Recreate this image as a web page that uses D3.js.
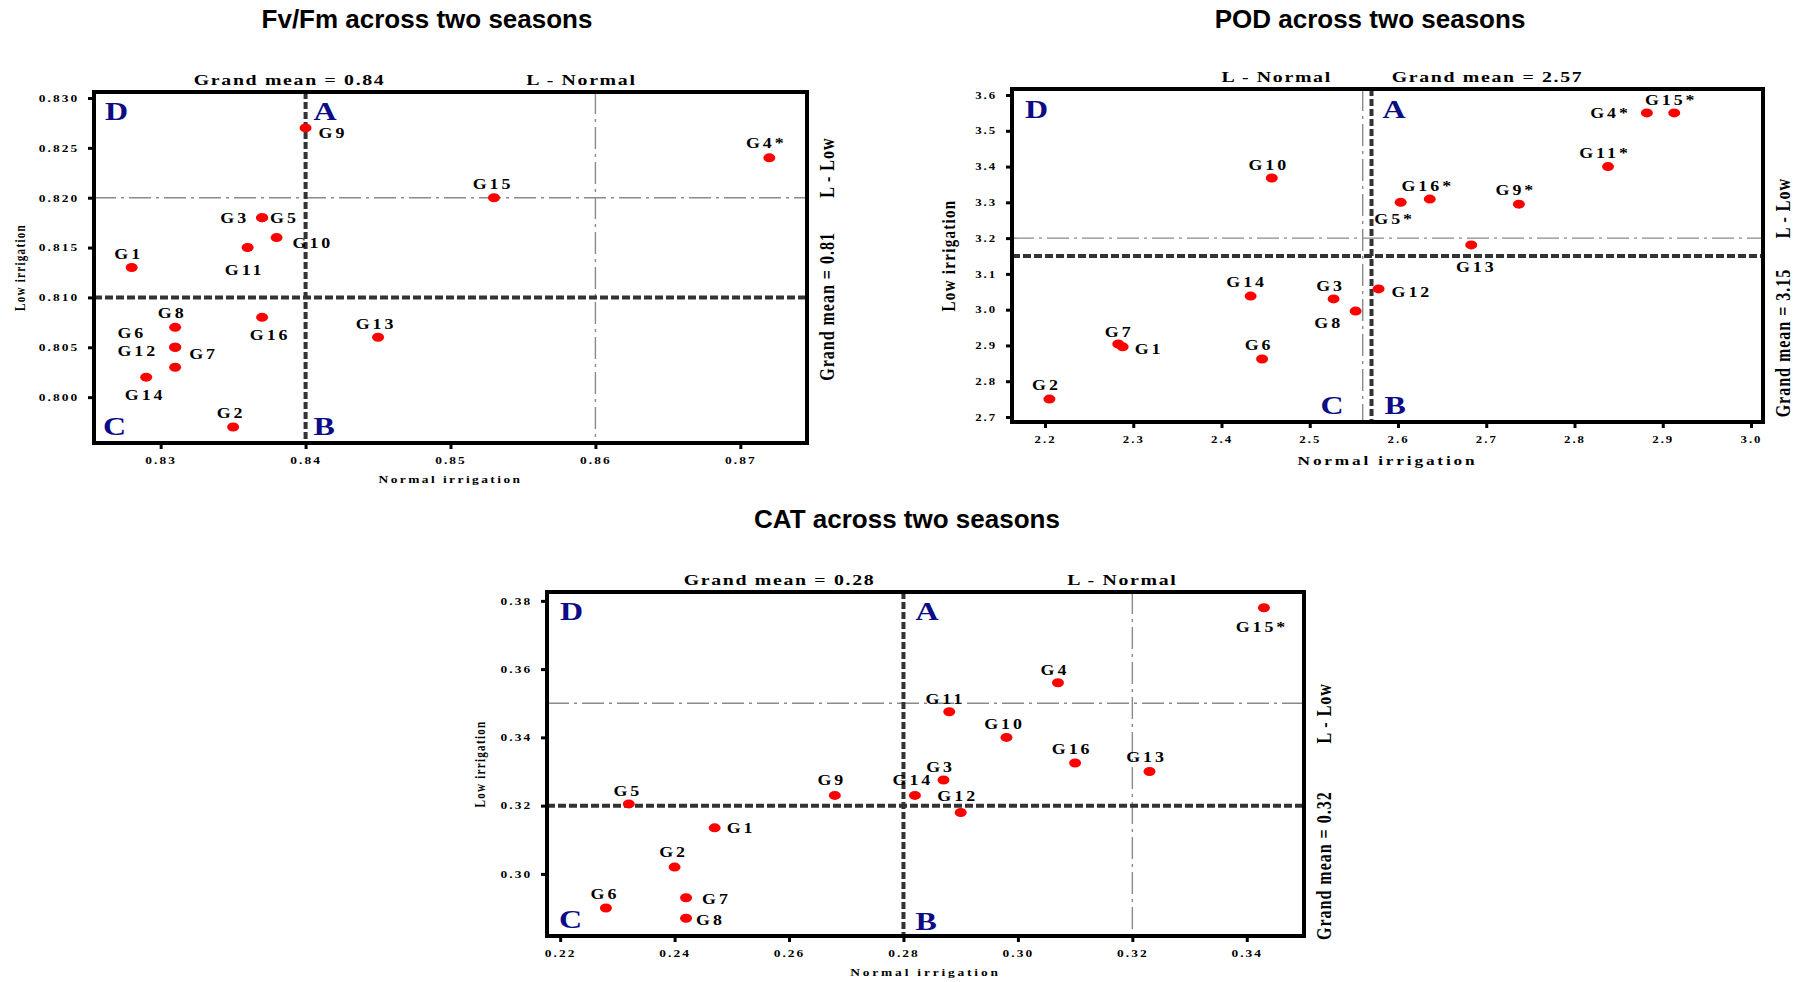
<!DOCTYPE html>
<html>
<head>
<meta charset="utf-8">
<script src="https://cdn.jsdelivr.net/npm/d3@7"></script>
<style>
  body { margin: 0; background: #fff; }
  svg { display: block; }
  text { font-family: "Liberation Serif", "Times New Roman", serif; font-weight: bold; fill: #000; }
  text.title { font-family: "Liberation Sans", Arial, sans-serif; }
</style>
</head>
<body>
<script>
//------------------------------------------- Data ---------------------------------------------//
var genotypes = ["G1", "G2", "G3", "G4", "G5", "G6", "G7", "G8",
                 "G9", "G10", "G11", "G12", "G13", "G14", "G15", "G16"];

// Fv/Fm
var fvfmNormal = [0.828, 0.835, 0.837, 0.872, 0.837, 0.831, 0.831, 0.831,
                  0.840, 0.838, 0.836, 0.831, 0.845, 0.829, 0.853, 0.837];
var fvfmLow = [0.813, 0.797, 0.818, 0.824, 0.818, 0.805, 0.803, 0.807,
               0.827, 0.816, 0.815, 0.805, 0.806, 0.802, 0.820, 0.808];
var fvfmMarked = ["G4"];
var fvfmMeans = [0.84, 0.81];      // grand mean normal, low
var fvfmLimits = [0.86, 0.82];     // L - Normal, L - Low
var fvfmXTicks = [0.83, 0.84, 0.85, 0.86, 0.87];
var fvfmYTicks = [0.800, 0.805, 0.810, 0.815, 0.820, 0.825, 0.830];

// POD
var podNormal = [2.288, 2.205, 2.527, 2.882, 2.603, 2.446, 2.283, 2.552,
                 2.737, 2.457, 2.838, 2.578, 2.683, 2.433, 2.913, 2.636];
var podLow = [2.896, 2.750, 3.030, 3.550, 3.300, 2.862, 2.904, 2.996,
              3.295, 3.368, 3.400, 3.058, 3.181, 3.038, 3.550, 3.309];
var podMarked = ["G4", "G5", "G9", "G11", "G15", "G16"];
var podMeans = [2.57, 3.15];
var podLimits = [2.56, 3.2];
var podXTicks = [2.2, 2.3, 2.4, 2.5, 2.6, 2.7, 2.8, 2.9, 3.0];
var podYTicks = [2.7, 2.8, 2.9, 3.0, 3.1, 3.2, 3.3, 3.4, 3.5, 3.6];

// CAT
var catNormal = [0.247, 0.240, 0.287, 0.307, 0.232, 0.228, 0.242, 0.242,
                 0.268, 0.298, 0.288, 0.290, 0.323, 0.282, 0.343, 0.310];
var catLow = [0.3135, 0.302, 0.3275, 0.356, 0.3205, 0.290, 0.293, 0.287,
              0.323, 0.340, 0.3475, 0.318, 0.330, 0.323, 0.378, 0.3325];
var catMarked = ["G15"];
var catMeans = [0.28, 0.32];
var catLimits = [0.32, 0.35];
var catXTicks = [0.22, 0.24, 0.26, 0.28, 0.30, 0.32, 0.34];
var catYTicks = [0.30, 0.32, 0.34, 0.36, 0.38];

//------------------------------------------- Layout ---------------------------------------------//
// label placement: [anchor, dx, dy] from the point
var fvfmLabelPos = {
  G1: ["middle", -3, -9], G2: ["middle", -2, -9], G3: ["end", -13, 5], G4: ["middle", -3, -10],
  G5: ["start", 8, 5], G6: ["end", -29, -9], G7: ["start", 14, -8], G8: ["middle", -3, -9],
  G9: ["start", 13, 10], G10: ["start", 16, 10], G11: ["middle", -3, 27], G12: ["end", -17, 9],
  G13: ["middle", -2, -8], G14: ["middle", -1, 23], G15: ["middle", -1, -9], G16: ["middle", 8, 23]
};
var podLabelPos = {
  G1: ["start", 12, 7], G2: ["middle", -3, -9], G3: ["middle", -3, -8], G4: ["end", -16, 5],
  G5: ["middle", -6, 22], G6: ["middle", -3, -9], G7: ["middle", 1, -7], G8: ["middle", -27, 17],
  G9: ["middle", -3, -9], G10: ["middle", -3, -8], G11: ["middle", -3, -9], G12: ["start", 13, 8],
  G13: ["middle", 5, 27], G14: ["middle", -4, -9], G15: ["middle", -3, -8], G16: ["middle", -2, -8]
};
var catLabelPos = {
  G1: ["start", 12, 5], G2: ["middle", -1, -10], G3: ["middle", -3, -8], G4: ["middle", -3, -8],
  G5: ["middle", -1, -8], G6: ["middle", -1, -9], G7: ["start", 16, 6], G8: ["start", 10, 7],
  G9: ["middle", -3, -10], G10: ["middle", -2, -8], G11: ["middle", -4, -8], G12: ["middle", -3, -11],
  G13: ["middle", -3, -10], G14: ["middle", -2, -10], G15: ["middle", -2, 24], G16: ["middle", -3, -9]
};

var charts = [
  {
    title: "Fv/Fm across two seasons", titleX: 427, titleY: 28,
    normal: fvfmNormal, low: fvfmLow, marked: fvfmMarked, means: fvfmMeans, limits: fvfmLimits,
    xTicks: fvfmXTicks, yTicks: fvfmYTicks, xFmt: ".2f", yFmt: ".3f",
    left: 94, right: 807, top: 92, bottom: 443,
    xDomain: [0.8254, 0.8746], yDomain: [0.7954, 0.8306],
    labelPos: fvfmLabelPos,
    gmTopDx: -16, lnTopDx: -14, llRightDy: -30, gmRightDy: 9,
    yTitleDx: -69, yTitleSize: 11, xTitleSize: 10.5, xTitleLs: 1.9, tickSize: 10.5,
    quad: { D: ["left", 11, "top", 28], A: ["mean", 8, "top", 28], C: ["left", 9, "bottom", -8], B: ["mean", 8, "bottom", -8] }
  },
  {
    title: "POD across two seasons", titleX: 1370, titleY: 28,
    normal: podNormal, low: podLow, marked: podMarked, means: podMeans, limits: podLimits,
    xTicks: podXTicks, yTicks: podYTicks, xFmt: ".1f", yFmt: ".1f",
    left: 1012, right: 1763, top: 89, bottom: 422,
    xDomain: [2.1626, 3.0136], yDomain: [2.686, 3.6168],
    labelPos: podLabelPos,
    gmTopDx: 116, lnTopDx: -86, llRightDy: -30, gmRightDy: 87,
    yTitleDx: -57, yTitleSize: 15, xTitleSize: 13.5, xTitleLs: 2.2, tickSize: 10,
    quad: { D: ["left", 13, "top", 29], A: ["mean", 11, "top", 29], C: ["mean", -51, "bottom", -8], B: ["mean", 13, "bottom", -8] }
  },
  {
    title: "CAT across two seasons", titleX: 907, titleY: 528,
    normal: catNormal, low: catLow, marked: catMarked, means: catMeans, limits: catLimits,
    xTicks: catXTicks, yTicks: catYTicks, xFmt: ".2f", yFmt: ".2f",
    left: 547, right: 1304, top: 592, bottom: 936,
    xDomain: [0.2177, 0.35], yDomain: [0.2818, 0.3826],
    labelPos: catLabelPos,
    gmTopDx: -124, lnTopDx: -10, llRightDy: 10, gmRightDy: 60,
    yTitleDx: -62, yTitleSize: 11, xTitleSize: 10.5, xTitleLs: 2.2, tickSize: 10.5,
    quad: { D: ["left", 13, "top", 28], A: ["mean", 12, "top", 28], C: ["left", 12, "bottom", -8], B: ["mean", 12, "bottom", -6] }
  }
];

var SX = 1.28; // the figure is stretched horizontally

var width = 1794,
  height = 982;

var svg = d3
  .select("body")
  .append("svg")
  .attr("width", width)
  .attr("height", height);

// text helper: horizontal text is widened, rotated text is thickened
function stext(g, x, y, str, size, ls, anchor, rotated) {
  return g
    .append("text")
    .attr("transform", "translate(" + x + "," + y + ")" +
      (rotated ? " rotate(-90) scale(1," + SX + ")" : " scale(" + SX + ",1)"))
    .attr("text-anchor", anchor || "middle")
    .style("font-size", size + "px")
    .style("letter-spacing", ls + "px")
    .text(str);
}

//------------------------------------------- Draw ---------------------------------------------//
charts.forEach(function (c) {
  var g = svg.append("g");

  var x = d3.scaleLinear().domain(c.xDomain).range([c.left, c.right]);
  var y = d3.scaleLinear().domain(c.yDomain).range([c.bottom, c.top]);

  var points = genotypes.map(function (name, i) {
    return {
      name: name,
      label: name + (c.marked.indexOf(name) >= 0 ? "*" : ""),
      normal: c.normal[i],
      low: c.low[i]
    };
  });

  // title
  g.append("text")
    .attr("class", "title")
    .attr("x", c.titleX)
    .attr("y", c.titleY)
    .attr("text-anchor", "middle")
    .style("font-size", "26px")
    .text(c.title);

  // axes
  var xAxis = d3.axisBottom(x)
    .tickValues(c.xTicks)
    .tickSize(6)
    .tickPadding(7.5)
    .tickFormat(d3.format(c.xFmt));
  var yAxis = d3.axisLeft(y)
    .tickValues(c.yTicks)
    .tickSize(6)
    .tickPadding(5.5)
    .tickFormat(d3.format(c.yFmt));

  [[xAxis, "translate(0," + c.bottom + ")"], [yAxis, "translate(" + c.left + ",0)"]].forEach(function (a) {
    var ax = g.append("g").attr("transform", a[1]).call(a[0]);
    ax.select(".domain").remove();
    ax.selectAll("line").attr("stroke", "#000").attr("stroke-width", 3);
    ax.selectAll("text")
      .attr("transform", "scale(" + SX + ",1)")
      .attr("fill", "#000")
      .style("font-family", '"Liberation Serif", "Times New Roman", serif')
      .style("font-weight", "bold")
      .style("font-size", c.tickSize + "px")
      .style("letter-spacing", "1.6px");
  });

  // limit lines (thin dash-dot)
  g.append("line")
    .attr("x1", x(c.limits[0])).attr("x2", x(c.limits[0]))
    .attr("y1", c.top).attr("y2", c.bottom)
    .attr("stroke", "#8a8a8a").attr("stroke-width", 1.4)
    .attr("stroke-dasharray", "22,5,3,5");
  g.append("line")
    .attr("x1", c.left).attr("x2", c.right)
    .attr("y1", y(c.limits[1])).attr("y2", y(c.limits[1]))
    .attr("stroke", "#8a8a8a").attr("stroke-width", 1.4)
    .attr("stroke-dasharray", "22,5,3,5");

  // grand mean lines (thick dashed)
  g.append("line")
    .attr("x1", x(c.means[0])).attr("x2", x(c.means[0]))
    .attr("y1", c.top).attr("y2", c.bottom)
    .attr("stroke", "#333").attr("stroke-width", 4)
    .attr("stroke-dasharray", "7,3");
  g.append("line")
    .attr("x1", c.left).attr("x2", c.right)
    .attr("y1", y(c.means[1])).attr("y2", y(c.means[1]))
    .attr("stroke", "#333").attr("stroke-width", 4)
    .attr("stroke-dasharray", "8,3");

  // frame
  g.append("rect")
    .attr("x", c.left).attr("y", c.top)
    .attr("width", c.right - c.left).attr("height", c.bottom - c.top)
    .attr("fill", "none").attr("stroke", "#000").attr("stroke-width", 4);

  // quadrant letters
  Object.keys(c.quad).forEach(function (k) {
    var q = c.quad[k];
    var qx = (q[0] === "left" ? c.left : x(c.means[0])) + q[1];
    var qy = (q[2] === "top" ? c.top : c.bottom) + q[3];
    stext(g, qx, qy, k, 25, 0, "start").style("fill", "#0c0c86");
  });

  // reference labels
  stext(g, x(c.means[0]) + c.gmTopDx, c.top - 7, "Grand mean = " + d3.format(".2f")(c.means[0]), 15.5, 1.3, "middle");
  stext(g, x(c.limits[0]) + c.lnTopDx, c.top - 7, "L - Normal", 15.5, 1.3, "middle");
  stext(g, c.right + 27, y(c.limits[1]) + c.llRightDy, "L - Low", 16, 1, "middle", true);
  stext(g, c.right + 27, y(c.means[1]) + c.gmRightDy, "Grand mean = " + d3.format(".2f")(c.means[1]), 16, 1, "middle", true);

  // axis titles
  stext(g, (c.left + c.right) / 2, c.bottom + (c.xTitleSize > 12 ? 43 : 40), "Normal irrigation", c.xTitleSize, c.xTitleLs, "middle");
  stext(g, c.left + c.yTitleDx, (c.top + c.bottom) / 2, "Low irrigation", c.yTitleSize, 1.3, "middle", true);

  // points
  g.append("g")
    .selectAll("ellipse")
    .data(points)
    .enter()
    .append("ellipse")
    .attr("cx", function (d) { return x(d.normal); })
    .attr("cy", function (d) { return y(d.low); })
    .attr("rx", 6)
    .attr("ry", 4.5)
    .attr("fill", "#ff0000");

  // point labels
  points.forEach(function (d) {
    var p = c.labelPos[d.name];
    stext(g, x(d.normal) + p[1], y(d.low) + p[2], d.label, 14, 2.3, p[0]);
  });
});
</script>
</body>
</html>
